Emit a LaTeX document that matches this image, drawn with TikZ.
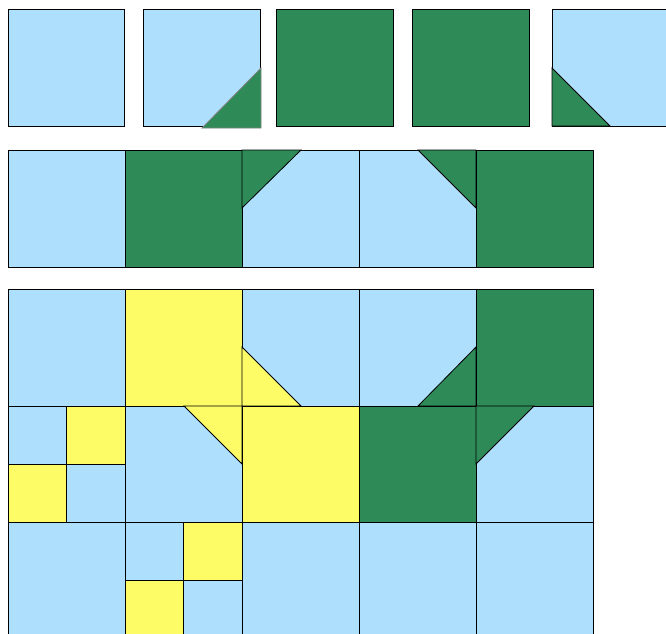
\documentclass[tikz,border=0pt]{standalone}
\definecolor{tblue}{HTML}{AEE0FE}
\definecolor{tgreen}{HTML}{2E8B57}
\definecolor{tyellow}{HTML}{FEFC66}
\begin{document}
\begin{tikzpicture}[x=1pt,y=-1pt,
  edge/.style={draw=black,line width=0.8pt,line join=miter},
  bluetile/.style={edge,fill=tblue},
  greentile/.style={edge,fill=tgreen},
  yellowtile/.style={edge,fill=tyellow}]
\useasboundingbox (0,0) rectangle (666,633);
\clip (0,0) rectangle (666,633);
% ---- top row: separate tiles
\path[bluetile] (8,9) rectangle (124,126);
\path[bluetile] (143,9) rectangle (260,126);
\path[edge,fill=tgreen,draw=gray] (202,128) -- (261,128) -- (261,68) -- cycle;
\path[greentile] (276,9) rectangle (393,126);
\path[greentile] (412,9) rectangle (529,126);
\path[bluetile] (552,9) rectangle (669,126);
\path[greentile] (552,68) -- (552,126) -- (610,126) -- cycle;
% ---- second row
\path[bluetile] (8,150) rectangle (125,267);
\path[greentile] (125,150) rectangle (242,267);
\path[bluetile] (242,150) rectangle (359,267);
\path[greentile] (242,150) -- (301,150) -- (242,208) -- cycle;
\path[bluetile] (359,150) rectangle (476,267);
\path[greentile] (418,150) -- (476,150) -- (476,208) -- cycle;
\path[greentile] (476,150) rectangle (593,267);
% ---- third block, row A
\path[bluetile] (8,289) rectangle (125,406);
\path[yellowtile] (125,289) rectangle (242,406);
\path[bluetile] (242,289) rectangle (359,406);
\path[yellowtile] (242,347) -- (242,406) -- (301,406) -- cycle;
\path[bluetile] (359,289) rectangle (476,406);
\path[greentile] (418,406) -- (476,406) -- (476,347) -- cycle;
\path[greentile] (476,289) rectangle (593,406);
% row B
\path[bluetile] (8,406) rectangle (66.5,464);
\path[yellowtile] (66.5,406) rectangle (125,464);
\path[yellowtile] (8,464) rectangle (66.5,522);
\path[bluetile] (66.5,464) rectangle (125,522);
\path[bluetile] (125,406) rectangle (242,522);
\path[yellowtile] (184,406) -- (242,406) -- (242,464) -- cycle;
\path[yellowtile] (242,406) rectangle (359,522);
\path[greentile] (359,406) rectangle (476,522);
\path[bluetile] (476,406) rectangle (593,522);
\path[greentile] (476,406) -- (534,406) -- (476,464) -- cycle;
% row C
\path[bluetile] (8,522) rectangle (125,639);
\path[bluetile] (125,522) rectangle (183.5,580.5);
\path[yellowtile] (183.5,522) rectangle (242,580.5);
\path[yellowtile] (125,580.5) rectangle (183.5,639);
\path[bluetile] (183.5,580.5) rectangle (242,639);
\path[bluetile] (242,522) rectangle (359,639);
\path[bluetile] (359,522) rectangle (476,639);
\path[bluetile] (476,522) rectangle (593,639);
\end{tikzpicture}
\end{document}
